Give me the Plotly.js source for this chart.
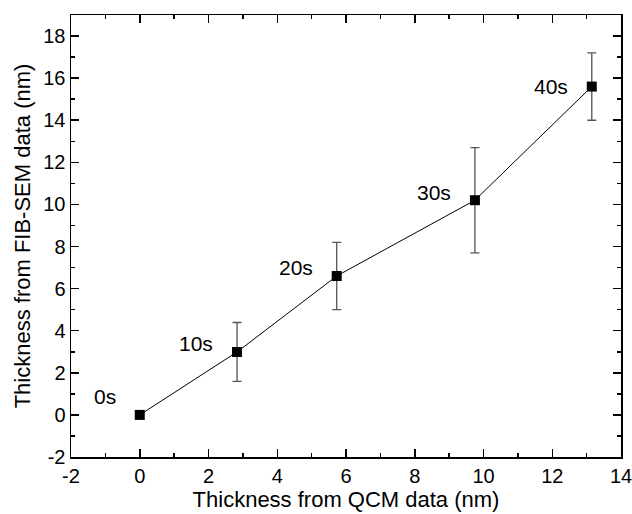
<!DOCTYPE html>
<html>
<head>
<meta charset="utf-8">
<script src="https://cdn.plot.ly/plotly-3.0.1.min.js"></script>
<style>html,body{margin:0;padding:0;background:#fff;}#chart{width:632px;height:514px;}</style>
</head>
<body>
<div id="chart"></div>
<script>
// Data
const labels = ["0s", "10s", "20s", "30s", "40s"];
const qcmThickness = [0, 2.83, 5.73, 9.75, 13.15];
const semThickness = [0, 2.99, 6.6, 10.2, 15.6];
const semError = [0, 1.4, 1.6, 2.5, 1.6];
const xTickVals = [-2, 0, 2, 4, 6, 8, 10, 12, 14];
const xTickText = ["-2", "0", "2", "4", "6", "8", "10", "12", "14"];
const yTickVals = [-2, 0, 2, 4, 6, 8, 10, 12, 14, 16, 18];
const yTickText = ["-2", "0", "2", "4", "6", "8", "10", "12", "14", "16", "18"];

const font = "Liberation Sans, Arial, sans-serif";

const trace = {
  x: qcmThickness,
  y: semThickness,
  type: "scatter",
  mode: "lines+markers",
  line: {color: "#000", width: 1},
  marker: {symbol: "square", size: 10, color: "#000"},
  error_y: {type: "data", array: semError, visible: true, color: "#555", thickness: 1.3, width: 4.5},
  showlegend: false,
  hoverinfo: "x+y"
};

const annotations = labels.map((t, i) => ({
  x: qcmThickness[i], y: semThickness[i], xref: "x", yref: "y",
  text: t, showarrow: false, xanchor: "right", yanchor: "middle",
  xshift: -22, yshift: i === 0 ? 18 : (i === 4 ? 0 : 8),
  font: {family: font, size: 21, color: "#000"}
}));

const axisCommon = {
  showgrid: false, zeroline: false, showline: true, linecolor: "#000", linewidth: 1.5,
  mirror: "allticks", ticks: "inside", ticklen: 8, tickwidth: 1.5, tickcolor: "#000",
  tickfont: {family: font, size: 20, color: "#000"}, ticklabeloverflow: "allow",
  minor: {ticks: "inside", ticklen: 4, tickwidth: 1.5, tickcolor: "#000", dtick: 1, showgrid: false}
};

const layout = {
  width: 632, height: 514,
  margin: {l: 71, r: 11, t: 15, b: 57},
  paper_bgcolor: "#fff", plot_bgcolor: "#fff",
  xaxis: Object.assign({}, axisCommon, {
    range: [-2, 14], tickmode: "array", tickvals: xTickVals, ticktext: xTickText,
    title: {text: "Thickness from QCM data (nm)", font: {family: font, size: 22, color: "#000"}, standoff: 6}
  }),
  yaxis: Object.assign({}, axisCommon, {
    range: [-2, 19], tickmode: "array", tickvals: yTickVals, ticktext: yTickText,
    title: {text: "Thickness from FIB-SEM data (nm)", font: {family: font, size: 22, color: "#000"}, standoff: 6}
  }),
  annotations: annotations
};

Plotly.newPlot("chart", [trace], layout, {displayModeBar: false, staticPlot: true});
</script>
</body>
</html>
